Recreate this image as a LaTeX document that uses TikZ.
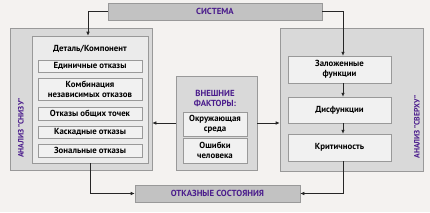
\documentclass[tikz,border=0pt]{standalone}
\usepackage{fontspec}
\setmainfont{PT Sans}
\usetikzlibrary{positioning,arrows.meta}

\definecolor{bg}{HTML}{F4F2F0}
\definecolor{panelgray}{HTML}{D9D9D9}
\definecolor{groupgray}{HTML}{EBEBEB}
\definecolor{itemgray}{HTML}{F1F1F1}
\definecolor{headgray}{HTML}{C2C2C2}
\definecolor{edgegray}{HTML}{999999}
\definecolor{violetx}{HTML}{4A1C8C}

\tikzset{
  panel/.style={draw=edgegray, fill=panelgray, line width=0.6pt},
  group/.style={draw=edgegray, fill=groupgray, line width=0.6pt},
  item/.style={draw=edgegray, fill=itemgray, line width=0.5pt, align=center,
    inner sep=0pt, font=\bfseries\fontsize{8.8}{9.8}\selectfont},
  head/.style={draw=edgegray, fill=headgray, line width=0.6pt, text=violetx,
    inner sep=0pt, font=\bfseries\fontsize{8.8}{9.8}\selectfont},
  side/.style={text=violetx, rotate=90, font=\bfseries\fontsize{7.8}{8}\selectfont},
  flow/.style={-{Latex[length=4pt,width=3.5pt]}, line width=0.6pt, draw=black!85}
}

\begin{document}
\begin{tikzpicture}[x=1pt, y=-1pt]
  \fill[bg] (0,0) rectangle (430,212);
  \useasboundingbox (0,0) rectangle (430,212);

  % top and bottom bars
  \node[head, minimum width=214pt, minimum height=17pt] (system) at (215,11.5) {СИСТЕМА};
  \node[head, minimum width=165pt, minimum height=17pt] (failure) at (217.5,193.5) {ОТКАЗНЫЕ СОСТОЯНИЯ};

  % bottom-up analysis
  \node[panel, minimum width=142pt, minimum height=142pt] (bottomup) at (81,99) {};
  \node[side] (bulabel) at (21,128) {АНАЛИЗ "СНИЗУ"};
  \node[group, minimum width=116pt, minimum height=127pt] (detail) at (90,99.5) {};
  \node[font=\bfseries\fontsize{8.8}{9.8}\selectfont] (dettitle) at (90,49) {Деталь/Компонент};
  \node[item, minimum width=104pt, minimum height=12pt] (single) at (90,66) {Единичные отказы};
  \node[item, minimum width=104pt, minimum height=22pt] (combo) at (90,89) {Комбинация\\независимых отказов};
  \node[item, minimum width=104pt, minimum height=13pt] (common) at (90,113.5) {Отказы общих точек};
  \node[item, minimum width=104pt, minimum height=12pt] (cascade) at (90,132) {Каскадные отказы};
  \node[item, minimum width=104pt, minimum height=13pt] (zonal) at (90,150.5) {Зональные отказы};

  % top-down analysis
  \node[panel, minimum width=143pt, minimum height=143pt] (topdown) at (351.5,99.5) {};
  \node[side] (tdlabel) at (417,127) {АНАЛИЗ "СВЕРХУ"};
  \node[item, minimum width=103pt, minimum height=27pt] (funcs) at (339.5,69.5) {Заложенные\\функции};
  \node[item, minimum width=103pt, minimum height=26pt] (dysf) at (339.5,110) {Дисфункции};
  \node[item, minimum width=103pt, minimum height=27pt] (crit) at (339.5,147.5) {Критичность};

  % external factors
  \node[panel, minimum width=81pt, minimum height=94pt] (ext) at (216.5,123) {};
  \node[text=violetx, align=center, font=\bfseries\fontsize{8.8}{10}\selectfont] (exttitle) at (215,98) {ВНЕШНИЕ\\ФАКТОРЫ:};
  \node[item, minimum width=64pt, minimum height=24pt] (env) at (215,124) {Окружающая\\среда};
  \node[item, minimum width=64pt, minimum height=25pt] (human) at (215,150.5) {Ошибки\\человека};

  % connectors
  \draw[flow] (system.west) -| ([xshift=-2pt]detail.north);
  \draw[flow] (system.east) -| ([xshift=3.5pt]funcs.north);
  \draw[flow] ([xshift=3.5pt]funcs.south) -- ([xshift=3.5pt]dysf.north);
  \draw[flow] ([xshift=3.5pt]dysf.south) -- ([xshift=3.5pt]crit.north);
  \draw[flow] (ext.west) -- (ext.west -| bottomup.east);
  \draw[flow] (ext.east) -- (ext.east -| topdown.west);
  \draw[flow] (detail.south) |- (failure.west);
  \draw[flow] ([xshift=3.5pt]crit.south) |- (failure.east);
\end{tikzpicture}
\end{document}
